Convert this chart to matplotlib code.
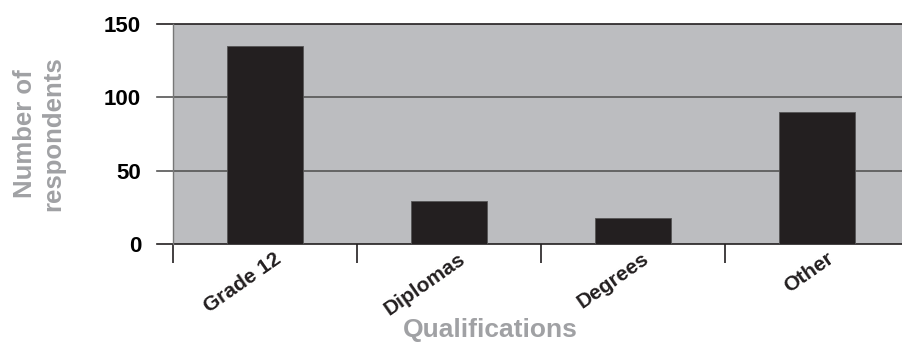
import numpy as np
import matplotlib.pyplot as plt
from matplotlib.transforms import offset_copy

plt.rcParams['font.family'] = ['Liberation Sans', 'DejaVu Sans']

categories = ["Grade 12", "Diplomas", "Degrees", "Other"]
respondents = [135, 29, 18, 90]
yticks = [0, 50, 100, 150]

fig = plt.figure(figsize=(9.03, 3.44), dpi=100)
ax = fig.add_axes([173 / 903, 100 / 344, 736 / 903, 220 / 344])
ax.set_facecolor("#bcbdc0")

x = np.arange(len(categories)) + 0.5
ax.bar(x, respondents, width=0.41, color="#231f20", edgecolor="#555555",
       linewidth=0.6, zorder=3)

ax.set_xlim(0, len(categories))
ax.set_ylim(0, 150)

# horizontal rules, drawn past the left spine to act as the y ticks
for v in yticks:
    col = "#231f20" if v in (0, 150) else "#555555"
    ax.plot([-0.087, len(categories)], [v, v], color=col, lw=1.2,
            clip_on=False, zorder=2)

for s in ("top", "right", "bottom"):
    ax.spines[s].set_visible(False)
ax.spines["left"].set_color("#777777")
ax.spines["left"].set_linewidth(1.0)
ax.spines["left"].set_zorder(4)

ax.set_yticks(yticks)
ax.set_yticklabels([str(v) for v in yticks], fontsize=16, fontweight="bold")
ax.tick_params(axis="y", length=0, pad=23)

# category boundary ticks below the axis
bounds = np.arange(len(categories))
ax.set_xticks(bounds)
ax.set_xticklabels([])
ax.tick_params(axis="x", length=14, width=1.2, color="#231f20", direction="out")
ax.get_xticklines()[0].set_color("#777777")

trans = offset_copy(ax.get_xaxis_transform(), fig=fig, x=9, y=-5, units="dots")
for xi, lab in zip(x, categories):
    ax.text(xi, 0, lab, transform=trans, rotation=35, rotation_mode="anchor",
            ha="right", va="top", fontsize=15, fontweight="bold", color="#231f20")

ax.set_ylabel("Number of\nrespondents", fontsize=18.5, fontweight="bold",
              color="#a0a1a4", linespacing=1.2)
ax.yaxis.set_label_coords(-0.147, 0.5)
fig.text(490 / 903, 1 - 330 / 344, "Qualifications", ha="center", va="center",
         fontsize=19, fontweight="bold", color="#a0a1a4")

fig.savefig("out.png", dpi=100)
